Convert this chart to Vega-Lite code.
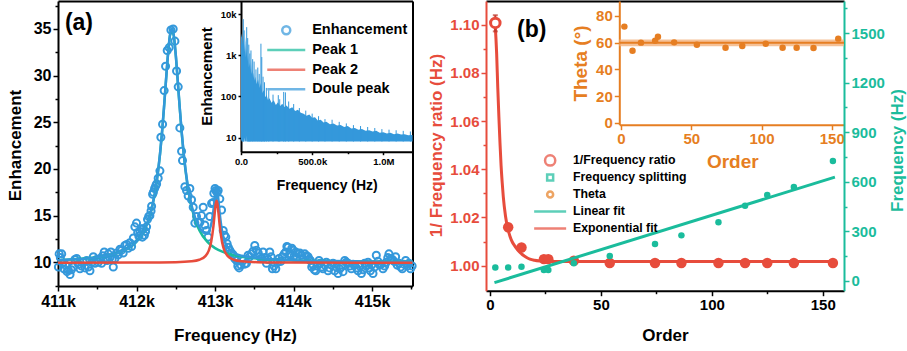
{
 "$schema": "https://vega.github.io/schema/vega-lite/v6.json",
 "width": 907, "height": 351,
 "autosize": {"type": "none"},
 "padding": 0,
 "background": "white",
 "config": {
   "view": {"stroke": null},
   "font": "Liberation Sans",
   "axis": {"grid": false, "labelFont": "Liberation Sans", "labelFontWeight": "bold", "labelFontSize": 15, "labelColor": "black", "titleFont": "Liberation Sans", "titleFontWeight": "bold", "titleFontSize": 17, "titleColor": "black", "domainColor": "black", "domainWidth": 2, "tickColor": "black", "tickWidth": 1.5, "tickSize": 5, "labelPadding": 2, "labelFlush": false, "labelOverlap": false, "titleAlign": "center", "titleBaseline": "middle"},
   "legend": {"labelFont": "Liberation Sans", "labelFontWeight": "bold", "labelColor": "black", "padding": 0}
 },
 "datasets": {
   "a_pts": [
     {"f":411005,"e":9.5},{"f":411015,"e":10.9},{"f":411030,"e":10.5},{"f":411047,"e":10.9},{"f":411060,"e":9.9},{"f":411075,"e":9.3},{"f":411098,"e":9.7},{"f":411115,"e":9.0},{"f":411132,"e":9.15},{"f":411153,"e":8.7},{"f":411170,"e":9.2},{"f":411195,"e":9.5},{"f":411215,"e":10.3},{"f":411238,"e":10.4},{"f":411260,"e":9.8},{"f":411280,"e":9.3},{"f":411300,"e":9.6},{"f":411322,"e":10.0},{"f":411345,"e":9.4},{"f":411365,"e":10.2},{"f":411386,"e":9.5},{"f":411407,"e":9.1},{"f":411430,"e":10.0},{"f":411450,"e":10.6},{"f":411471,"e":9.9},{"f":411490,"e":10.3},{"f":411513,"e":10.0},{"f":411535,"e":10.4},{"f":411555,"e":9.9},{"f":411570,"e":10.7},{"f":411589,"e":11.1},{"f":411610,"e":10.5},{"f":411625,"e":10.2},{"f":411640,"e":10.9},{"f":411660,"e":10.5},{"f":411674,"e":11.1},{"f":411690,"e":10.3},{"f":411704,"e":9.5},{"f":411725,"e":10.4},{"f":411745,"e":11.0},{"f":411768,"e":10.8},{"f":411790,"e":11.4},{"f":411810,"e":11.3},{"f":411830,"e":11.0},{"f":411852,"e":11.8},{"f":411875,"e":11.9},{"f":411895,"e":11.5},{"f":411915,"e":12.1},{"f":411937,"e":11.7},{"f":411960,"e":12.6},{"f":411979,"e":13.8},{"f":412000,"e":14.2},{"f":412015,"e":13.2},{"f":412030,"e":12.8},{"f":412043,"e":13.3},{"f":412060,"e":13.6},{"f":412075,"e":12.7},{"f":412085,"e":13.6},{"f":412100,"e":12.9},{"f":412115,"e":13.3},{"f":412128,"e":13.8},{"f":412140,"e":14.6},{"f":412155,"e":14.9},{"f":412170,"e":15.0},{"f":412185,"e":15.5},{"f":412192,"e":16.0},{"f":412205,"e":17.3},{"f":412215,"e":17.5},{"f":412230,"e":17.9},{"f":412245,"e":18.2},{"f":412256,"e":18.4},{"f":412276,"e":19.0},{"f":412298,"e":19.8},{"f":412310,"e":23.4},{"f":412332,"e":24.8},{"f":412352,"e":28.4},{"f":412370,"e":31.0},{"f":412391,"e":32.7},{"f":412416,"e":33.0},{"f":412438,"e":34.9},{"f":412467,"e":35.0},{"f":412489,"e":33.7},{"f":412510,"e":30.5},{"f":412531,"e":28.8},{"f":412552,"e":24.4},{"f":412574,"e":21.9},{"f":412586,"e":20.9},{"f":412616,"e":18.1},{"f":412637,"e":17.7},{"f":412658,"e":17.1},{"f":412679,"e":17.9},{"f":412701,"e":16.7},{"f":412722,"e":15.9},{"f":412743,"e":14.2},{"f":412764,"e":14.9},{"f":412785,"e":14.3},{"f":412807,"e":14.3},{"f":412828,"e":15.0},{"f":412849,"e":15.9},{"f":412870,"e":14.0},{"f":412891,"e":13.4},{"f":412912,"e":12.7},{"f":412934,"e":14.9},{"f":412956,"e":16.3},{"f":412975,"e":16.4},{"f":412985,"e":17.4},{"f":413000,"e":17.9},{"f":413010,"e":17.7},{"f":413025,"e":17.5},{"f":413040,"e":17.7},{"f":413061,"e":16.8},{"f":413083,"e":15.6},{"f":413104,"e":13.4},{"f":413120,"e":12.9},{"f":413137,"e":12.7},{"f":413154,"e":12.0},{"f":413170,"e":11.6},{"f":413188,"e":11.3},{"f":413210,"e":11.0},{"f":413230,"e":10.8},{"f":413250,"e":10.4},{"f":413273,"e":10.2},{"f":413290,"e":9.6},{"f":413307,"e":9.4},{"f":413330,"e":9.7},{"f":413358,"e":10.2},{"f":413380,"e":9.8},{"f":413400,"e":9.9},{"f":413421,"e":10.75},{"f":413440,"e":10.6},{"f":413464,"e":10.9},{"f":413485,"e":11.2},{"f":413506,"e":11.8},{"f":413527,"e":11.3},{"f":413550,"e":11.0},{"f":413570,"e":10.6},{"f":413590,"e":10.4},{"f":413612,"e":11.1},{"f":413635,"e":10.5},{"f":413655,"e":9.9},{"f":413675,"e":10.3},{"f":413697,"e":11.1},{"f":413715,"e":10.6},{"f":413731,"e":9.3},{"f":413750,"e":9.6},{"f":413774,"e":9.3},{"f":413795,"e":10.0},{"f":413816,"e":10.4},{"f":413838,"e":10.1},{"f":413858,"e":10.6},{"f":413880,"e":10.9},{"f":413901,"e":11.1},{"f":413915,"e":11.7},{"f":413930,"e":11.6},{"f":413945,"e":10.8},{"f":413960,"e":10.9},{"f":413978,"e":11.5},{"f":413994,"e":11.3},{"f":414010,"e":10.7},{"f":414028,"e":11.1},{"f":414045,"e":10.5},{"f":414058,"e":10.9},{"f":414080,"e":11.0},{"f":414101,"e":10.75},{"f":414120,"e":10.4},{"f":414143,"e":10.9},{"f":414165,"e":10.7},{"f":414185,"e":10.6},{"f":414200,"e":10.3},{"f":414215,"e":10.2},{"f":414232,"e":9.5},{"f":414249,"e":9.7},{"f":414265,"e":9.2},{"f":414283,"e":9.1},{"f":414300,"e":9.6},{"f":414325,"e":10.2},{"f":414340,"e":9.9},{"f":414355,"e":9.5},{"f":414375,"e":9.3},{"f":414397,"e":9.7},{"f":414418,"e":10.0},{"f":414440,"e":9.1},{"f":414460,"e":9.4},{"f":414482,"e":9.7},{"f":414503,"e":9.9},{"f":414524,"e":9.1},{"f":414545,"e":9.5},{"f":414567,"e":8.8},{"f":414588,"e":9.3},{"f":414609,"e":9.5},{"f":414630,"e":9.0},{"f":414652,"e":10.2},{"f":414673,"e":10.0},{"f":414694,"e":9.9},{"f":414715,"e":9.6},{"f":414736,"e":9.3},{"f":414758,"e":9.8},{"f":414779,"e":9.7},{"f":414800,"e":9.4},{"f":414821,"e":9.1},{"f":414843,"e":9.6},{"f":414864,"e":8.8},{"f":414885,"e":9.2},{"f":414906,"e":9.9},{"f":414928,"e":9.6},{"f":414949,"e":10.0},{"f":414965,"e":9.4},{"f":414978,"e":9.1},{"f":414995,"e":9.7},{"f":415012,"e":8.8},{"f":415033,"e":9.5},{"f":415054,"e":10.75},{"f":415075,"e":10.1},{"f":415097,"e":9.7},{"f":415118,"e":9.8},{"f":415139,"e":9.3},{"f":415160,"e":9.6},{"f":415181,"e":10.0},{"f":415200,"e":10.5},{"f":415215,"e":10.9},{"f":415237,"e":10.4},{"f":415258,"e":10.3},{"f":415280,"e":10.1},{"f":415300,"e":10.6},{"f":415320,"e":9.7},{"f":415343,"e":9.9},{"f":415365,"e":9.5},{"f":415385,"e":9.3},{"f":415405,"e":9.8},{"f":415428,"e":10.2},{"f":415450,"e":9.6},{"f":415470,"e":9.9},{"f":415490,"e":9.3},{"f":415510,"e":9.6}
   ],
   "a_p1": [
     {"f":411000,"e":10.23},{"f":411500,"e":10.53},{"f":411800,"e":11.11},{"f":412000,"e":12.21},{"f":412100,"e":13.45},{"f":412150,"e":14.47},{"f":412200,"e":15.97},{"f":412250,"e":18.22},{"f":412300,"e":21.64},{"f":412325,"e":23.91},{"f":412350,"e":26.56},{"f":412375,"e":29.42},{"f":412400,"e":32.17},{"f":412425,"e":34.23},{"f":412450,"e":35.0},{"f":412475,"e":34.23},{"f":412500,"e":32.17},{"f":412525,"e":29.42},{"f":412550,"e":26.56},{"f":412575,"e":23.91},{"f":412600,"e":21.64},{"f":412650,"e":18.22},{"f":412700,"e":15.97},{"f":412750,"e":14.47},{"f":412800,"e":13.45},{"f":412900,"e":12.21},{"f":413000,"e":11.52},{"f":413100,"e":11.11},{"f":413200,"e":10.84},{"f":413400,"e":10.53},{"f":413700,"e":10.31},{"f":414000,"e":10.2},{"f":414500,"e":10.12},{"f":415000,"e":10.075},{"f":415515,"e":10.05}
   ],
   "a_p2": [
     {"f":411000,"e":9.95},{"f":412000,"e":9.97},{"f":412500,"e":10.01},{"f":412700,"e":10.1},{"f":412800,"e":10.27},{"f":412880,"e":10.69},{"f":412920,"e":11.25},{"f":412950,"e":12.15},{"f":412980,"e":13.91},{"f":413000,"e":15.6},{"f":413010,"e":16.3},{"f":413020,"e":16.6},{"f":413030,"e":16.3},{"f":413040,"e":15.6},{"f":413060,"e":13.91},{"f":413090,"e":12.15},{"f":413120,"e":11.25},{"f":413160,"e":10.69},{"f":413240,"e":10.27},{"f":413340,"e":10.1},{"f":413540,"e":10.01},{"f":414000,"e":9.97},{"f":415515,"e":9.95}
   ],
   "a_dp": [
     {"f":411000,"e":10.23},{"f":411500,"e":10.54},{"f":411800,"e":11.12},{"f":412000,"e":12.23},{"f":412100,"e":13.47},{"f":412150,"e":14.49},{"f":412200,"e":16.0},{"f":412250,"e":18.25},{"f":412300,"e":21.68},{"f":412325,"e":23.95},{"f":412350,"e":26.61},{"f":412375,"e":29.47},{"f":412400,"e":32.22},{"f":412425,"e":34.29},{"f":412450,"e":35.06},{"f":412475,"e":34.29},{"f":412500,"e":32.24},{"f":412525,"e":29.49},{"f":412550,"e":26.64},{"f":412575,"e":24.0},{"f":412600,"e":21.74},{"f":412650,"e":18.34},{"f":412700,"e":16.13},{"f":412750,"e":14.69},{"f":412800,"e":13.77},{"f":412850,"e":13.25},{"f":412900,"e":13.17},{"f":412950,"e":14.02},{"f":412980,"e":15.59},{"f":413000,"e":17.12},{"f":413010,"e":17.71},{"f":413020,"e":17.92},{"f":413030,"e":17.63},{"f":413040,"e":16.94},{"f":413060,"e":15.21},{"f":413090,"e":13.34},{"f":413120,"e":12.35},{"f":413160,"e":11.63},{"f":413240,"e":11.03},{"f":413340,"e":10.7},{"f":413540,"e":10.47},{"f":414000,"e":10.22},{"f":414500,"e":10.13},{"f":415000,"e":10.08},{"f":415515,"e":10.05}
   ],
   "inset": [
     {"f":0,"hi":2600,"lo":9},{"f":5000,"hi":3400,"lo":8},{"f":10000,"hi":1800,"lo":8},{"f":15000,"hi":3000,"lo":8},{"f":20000,"hi":2200,"lo":8},{"f":25000,"hi":1200,"lo":10},{"f":30000,"hi":2800,"lo":8},{"f":35000,"hi":900,"lo":8},{"f":40000,"hi":1500,"lo":11},{"f":45000,"hi":700,"lo":8},{"f":50000,"hi":1000,"lo":8},{"f":55000,"hi":500,"lo":8},{"f":60000,"hi":650,"lo":8},{"f":65000,"hi":420,"lo":8},{"f":70000,"hi":800,"lo":8},{"f":75000,"hi":350,"lo":8},{"f":80000,"hi":450,"lo":8},{"f":85000,"hi":280,"lo":8},{"f":90000,"hi":380,"lo":8},{"f":95000,"hi":240,"lo":8},{"f":100000,"hi":300,"lo":8},{"f":110000,"hi":200,"lo":8},{"f":120000,"hi":260,"lo":8},{"f":130000,"hi":160,"lo":8},{"f":140000,"hi":210,"lo":8},{"f":150000,"hi":120,"lo":8},{"f":160000,"hi":140,"lo":8},{"f":170000,"hi":95,"lo":8},{"f":180000,"hi":110,"lo":8},{"f":190000,"hi":80,"lo":8},{"f":200000,"hi":90,"lo":8},{"f":215000,"hi":70,"lo":8},{"f":230000,"hi":80,"lo":8},{"f":245000,"hi":62,"lo":8},{"f":260000,"hi":72,"lo":8},{"f":275000,"hi":58,"lo":8},{"f":290000,"hi":66,"lo":8},{"f":305000,"hi":55,"lo":8},{"f":320000,"hi":60,"lo":8},{"f":340000,"hi":50,"lo":8},{"f":360000,"hi":54,"lo":8},{"f":380000,"hi":44,"lo":8},{"f":400000,"hi":47,"lo":8},{"f":420000,"hi":40,"lo":8},{"f":440000,"hi":38,"lo":8},{"f":460000,"hi":34,"lo":8},{"f":480000,"hi":36,"lo":8},{"f":500000,"hi":30,"lo":8},{"f":520000,"hi":31,"lo":8},{"f":540000,"hi":26,"lo":8},{"f":560000,"hi":27,"lo":8},{"f":580000,"hi":23,"lo":8},{"f":600000,"hi":24,"lo":8},{"f":625000,"hi":21,"lo":8},{"f":650000,"hi":22,"lo":8},{"f":675000,"hi":19.5,"lo":8},{"f":700000,"hi":20,"lo":8},{"f":725000,"hi":18,"lo":8},{"f":750000,"hi":19,"lo":8},{"f":775000,"hi":16.5,"lo":8},{"f":800000,"hi":17,"lo":8},{"f":825000,"hi":15.5,"lo":8},{"f":850000,"hi":16,"lo":8},{"f":875000,"hi":14.5,"lo":8},{"f":900000,"hi":15,"lo":8},{"f":925000,"hi":14,"lo":8},{"f":950000,"hi":14.5,"lo":8},{"f":975000,"hi":13,"lo":8},{"f":1000000,"hi":13.5,"lo":8},{"f":1025000,"hi":12.5,"lo":8},{"f":1050000,"hi":13,"lo":8},{"f":1075000,"hi":12,"lo":8},{"f":1100000,"hi":12.5,"lo":8},{"f":1125000,"hi":11.8,"lo":8},{"f":1150000,"hi":12,"lo":8},{"f":1175000,"hi":11.3,"lo":8},{"f":1205000,"hi":11.5,"lo":8}
   ],
   "spikes": [
     {"f":16000,"hi":7500,"lo":8},{"f":22000,"hi":4000,"lo":8},{"f":40000,"hi":4800,"lo":8},{"f":47000,"hi":2600,"lo":8},{"f":55000,"hi":1800,"lo":8},{"f":62000,"hi":1100,"lo":8},{"f":70000,"hi":1300,"lo":8},{"f":82000,"hi":800,"lo":8},{"f":92000,"hi":700,"lo":8},{"f":105000,"hi":450,"lo":8},{"f":118000,"hi":500,"lo":8},{"f":128000,"hi":350,"lo":8},{"f":140000,"hi":1900,"lo":8},{"f":146000,"hi":900,"lo":8},{"f":155000,"hi":300,"lo":8},{"f":165000,"hi":220,"lo":8},{"f":178000,"hi":160,"lo":8},{"f":195000,"hi":140,"lo":8},{"f":225000,"hi":110,"lo":8},{"f":262000,"hi":107,"lo":8},{"f":272000,"hi":85,"lo":8},{"f":300000,"hi":128,"lo":8},{"f":312000,"hi":125,"lo":8},{"f":335000,"hi":75,"lo":8},{"f":370000,"hi":65,"lo":8},{"f":410000,"hi":52,"lo":8},{"f":455000,"hi":45,"lo":8},{"f":500000,"hi":38,"lo":8},{"f":545000,"hi":33,"lo":8},{"f":590000,"hi":28,"lo":8},{"f":640000,"hi":27,"lo":8},{"f":690000,"hi":24,"lo":8},{"f":740000,"hi":22,"lo":8},{"f":790000,"hi":20,"lo":8},{"f":840000,"hi":19,"lo":8},{"f":890000,"hi":18,"lo":8},{"f":940000,"hi":17,"lo":8},{"f":990000,"hi":16,"lo":8},{"f":1040000,"hi":15.5,"lo":8},{"f":1090000,"hi":15,"lo":8},{"f":1140000,"hi":14.5,"lo":8},{"f":1190000,"hi":14,"lo":8}
   ],
   "b_exp": [
     {"order":2.3,"ratio":1.1005},{"order":3,"ratio":1.088},{"order":3.5,"ratio":1.074},{"order":4,"ratio":1.062},{"order":4.5,"ratio":1.051},{"order":5,"ratio":1.0415},{"order":5.5,"ratio":1.0345},{"order":6,"ratio":1.0285},{"order":7,"ratio":1.0205},{"order":8,"ratio":1.0155},{"order":9,"ratio":1.0122},{"order":10,"ratio":1.0099},{"order":11,"ratio":1.0084},{"order":12,"ratio":1.0071},{"order":13,"ratio":1.006},{"order":14,"ratio":1.0051},{"order":15,"ratio":1.0043},{"order":16.5,"ratio":1.0034},{"order":18,"ratio":1.0027},{"order":20,"ratio":1.0022},{"order":22.5,"ratio":1.0019},{"order":25,"ratio":1.0018},{"order":30,"ratio":1.0017},{"order":40,"ratio":1.0017},{"order":155,"ratio":1.0017}
   ],
   "b_ratio": [
     {"order":8.2,"ratio":1.0159},{"order":14.2,"ratio":1.0075},{"order":24.3,"ratio":1.0027},{"order":26.3,"ratio":1.0027},{"order":37.8,"ratio":1.002},{"order":54,"ratio":1.0011},{"order":74.4,"ratio":1.0011},{"order":86.3,"ratio":1.0011},{"order":103,"ratio":1.0011},{"order":115,"ratio":1.0011},{"order":125,"ratio":1.0011},{"order":137,"ratio":1.0011},{"order":154.6,"ratio":1.0011}
   ],
   "b_first": [{"order":2.4,"ratio":1.1007,"lo":1.0972,"hi":1.1039}],
   "b_split": [
     {"order":2.4,"hz":82},{"order":8.2,"hz":82},{"order":14.2,"hz":86},{"order":24.3,"hz":66},{"order":26.3,"hz":66},{"order":37.8,"hz":107},{"order":54,"hz":151},{"order":74.4,"hz":224},{"order":86.3,"hz":276},{"order":103,"hz":355},{"order":115,"hz":455},{"order":125,"hz":520},{"order":137,"hz":569},{"order":154.6,"hz":726}
   ],
   "b_lin": [{"order":2,"hz":-10},{"order":155.5,"hz":628}],
   "b_theta": [
     {"order":2.4,"theta":72},{"order":8.2,"theta":54},{"order":14.2,"theta":60},{"order":24.3,"theta":61.4},{"order":26.3,"theta":64.4},{"order":37.8,"theta":60.2},{"order":54,"theta":58.5},{"order":74.4,"theta":56.2},{"order":86.3,"theta":57.4},{"order":103,"theta":59.2},{"order":115,"theta":56.2},{"order":125,"theta":56.2},{"order":137,"theta":55.9},{"order":154.6,"theta":63}
   ],
   "b_thfit": [{"order":-1.21,"theta":60,"lo":57.2,"hi":62.3},{"order":158.7,"theta":60,"lo":57.2,"hi":62.3}]
 },
 "resolve": {
   "scale": {"x": "independent", "y": "independent", "color": "independent", "shape": "independent"},
   "axis": {"x": "independent", "y": "independent"},
   "legend": {"color": "independent", "shape": "independent"}
 },
 "layer": [
   {
     "data": {"name": "a_pts"},
     "mark": {"type": "point", "filled": false, "color": "#3498db", "size": 50, "strokeWidth": 2, "opacity": 1},
     "encoding": {
       "x": {"field": "f", "type": "quantitative", "scale": {"domain": [411000, 415515], "range": [58, 412.5], "nice": false, "zero": false},
             "axis": {"orient": "bottom", "offset": -65, "values": [411000, 412000, 413000, 414000, 415000], "labelExpr": "format(datum.value/1000,'d')+'k'", "labelFontSize": 16, "title": "Frequency (Hz)", "titleX": 235, "titleY": 49}},
       "y": {"field": "e", "type": "quantitative", "scale": {"domain": [7.46, 38.0], "range": [286, 1], "nice": false, "zero": false},
             "axis": {"orient": "left", "offset": -58, "values": [10, 15, 20, 25, 30, 35], "labelFontSize": 16, "title": "Enhancement", "titleX": -43, "titleY": 145, "titleAngle": -90}}
     }
   },
   {
     "data": {"name": "a_p1"},
     "mark": {"type": "line", "color": "#1abc9c", "strokeWidth": 2.5, "interpolate": "monotone"},
     "encoding": {
       "x": {"field": "f", "type": "quantitative", "scale": {"domain": [411000, 415515], "range": [58, 412.5], "nice": false, "zero": false},
             "axis": {"orient": "bottom", "offset": -65, "values": [411500, 412500, 413500, 414500, 415500], "labels": false, "domain": false, "tickSize": 3, "title": null}},
       "y": {"field": "e", "type": "quantitative", "scale": {"domain": [7.46, 38.0], "range": [286, 1], "nice": false, "zero": false},
             "axis": {"orient": "left", "offset": -58, "values": [7.5, 12.5, 17.5, 22.5, 27.5, 32.5, 37.5], "labels": false, "domain": false, "tickSize": 3, "title": null}}
     }
   },
   {
     "data": {"name": "a_dp"},
     "mark": {"type": "line", "color": "#3498db", "strokeWidth": 2.5, "interpolate": "monotone"},
     "encoding": {
       "x": {"field": "f", "type": "quantitative", "scale": {"domain": [411000, 415515], "range": [58, 412.5], "nice": false, "zero": false},
             "axis": {"orient": "top", "offset": -1, "ticks": false, "labels": false, "title": null}},
       "y": {"field": "e", "type": "quantitative", "scale": {"domain": [7.46, 38.0], "range": [286, 1], "nice": false, "zero": false},
             "axis": {"orient": "right", "offset": -494.5, "ticks": false, "labels": false, "title": null}}
     }
   },
   {
     "data": {"name": "a_p2"},
     "mark": {"type": "line", "color": "#e74c3c", "strokeWidth": 2.5, "interpolate": "monotone"},
     "encoding": {
       "x": {"field": "f", "type": "quantitative", "scale": {"domain": [411000, 415515], "range": [58, 412.5], "nice": false, "zero": false}, "axis": null},
       "y": {"field": "e", "type": "quantitative", "scale": {"domain": [7.46, 38.0], "range": [286, 1], "nice": false, "zero": false}, "axis": null}
     }
   },
   {
     "data": {"values": [{"label": "(a)", "f": 411267, "e": 35.64}]},
     "mark": {"type": "text", "font": "Liberation Sans", "fontWeight": "bold", "fontSize": 23, "align": "center", "baseline": "middle", "color": "black"},
     "encoding": {
       "text": {"field": "label"},
       "x": {"field": "f", "type": "quantitative", "scale": {"domain": [411000, 415515], "range": [58, 412.5], "nice": false, "zero": false}, "axis": null},
       "y": {"field": "e", "type": "quantitative", "scale": {"domain": [7.46, 38.0], "range": [286, 1], "nice": false, "zero": false}, "axis": null}
     }
   },
   {
     "data": {"name": "inset"},
     "mark": {"type": "area", "color": "#3498db", "opacity": 1},
     "encoding": {
       "x": {"field": "f", "type": "quantitative", "scale": {"domain": [0, 1205000], "range": [241, 412.5], "nice": false, "zero": false},
             "axis": {"orient": "bottom", "offset": -199.3, "values": [0, 500000, 1000000], "labelExpr": "datum.value >= 1000000 ? format(datum.value/1000000,'.1f')+'M' : datum.value >= 1000 ? format(datum.value/1000,'.1f')+'k' : format(datum.value,'.1f')", "labelFontSize": 9.5, "tickSize": 3, "title": "Frequency (Hz)", "titleFontSize": 14, "titleX": 326.7, "titleY": 33.3}},
       "y": {"field": "hi", "type": "quantitative", "scale": {"type": "log", "domain": [4.52, 20700], "range": [151.7, 1], "nice": false},
             "axis": {"orient": "left", "offset": -241, "values": [10, 100, 1000, 10000], "format": "~s", "labelFontSize": 9.5, "tickSize": 3, "title": "Enhancement", "titleFontSize": 15, "titleX": -34.3, "titleY": 76, "titleAngle": -90}},
       "y2": {"field": "lo"}
     }
   },
   {
     "data": {"name": "spikes"},
     "mark": {"type": "rule", "color": "#3498db", "strokeWidth": 1},
     "encoding": {
       "x": {"field": "f", "type": "quantitative", "scale": {"domain": [0, 1205000], "range": [241, 412.5], "nice": false, "zero": false},
             "axis": {"orient": "bottom", "offset": -199.3, "values": [250000, 750000], "labels": false, "domain": false, "tickSize": 2, "title": null}},
       "y": {"field": "hi", "type": "quantitative", "scale": {"type": "log", "domain": [4.52, 20700], "range": [151.7, 1], "nice": false}, "axis": null},
       "y2": {"field": "lo"}
     }
   },
   {
     "data": {"values": []},
     "mark": {"type": "point", "filled": false, "strokeWidth": 2.5},
     "encoding": {
       "color": {"field": "s", "type": "nominal", "scale": {"domain": ["Enhancement", "Peak 1", "Peak 2", "Doule peak"], "range": ["#3498db", "#1abc9c", "#e74c3c", "#3498db"]},
                 "legend": {"orient": "none", "legendX": 279, "legendY": 23, "title": null, "labelFontSize": 14.5, "symbolSize": 64, "symbolStrokeWidth": 2.5, "labelOffset": 18.7, "rowPadding": 0.7}},
       "shape": {"field": "s", "type": "nominal", "scale": {"domain": ["Enhancement", "Peak 1", "Peak 2", "Doule peak"], "range": ["M-1,0A1,1,0,1,1,1,0A1,1,0,1,1,-1,0Z", "M-4.75,0H4.75M0,-1M0,1", "M-4.75,0H4.75M0,-1M0,1", "M-4.75,0H4.75M0,-1M0,1"]},
                 "legend": {"orient": "none", "legendX": 279, "legendY": 23, "title": null, "labelFontSize": 14.5, "symbolSize": 64, "symbolStrokeWidth": 2.5, "labelOffset": 18.7, "rowPadding": 0.7}}
     }
   },
   {
     "data": {"name": "b_exp"},
     "mark": {"type": "line", "color": "#e74c3c", "strokeWidth": 3, "interpolate": "monotone"},
     "encoding": {
       "x": {"field": "order", "type": "quantitative", "scale": {"domain": [-1.8, 159.6], "range": [486, 844], "nice": false, "zero": false},
             "axis": {"orient": "bottom", "offset": -60.3, "values": [0, 50, 100, 150], "title": "Order", "titleX": 665, "titleY": 44.3}},
       "y": {"field": "ratio", "type": "quantitative", "scale": {"domain": [0.9896, 1.1098], "range": [290.7, 1], "nice": false, "zero": false},
             "axis": {"orient": "left", "offset": -486, "values": [1.0, 1.02, 1.04, 1.06, 1.08, 1.1], "format": ".2f", "domainColor": "#e74c3c", "tickColor": "#e74c3c", "labelColor": "#e74c3c", "titleColor": "#e74c3c", "title": "1/ Frequency ratio (Hz)", "titleX": -49.5, "titleY": 145, "titleAngle": -90}}
     }
   },
   {
     "data": {"name": "b_ratio"},
     "mark": {"type": "circle", "color": "#e74c3c", "size": 110, "opacity": 1},
     "encoding": {
       "x": {"field": "order", "type": "quantitative", "scale": {"domain": [-1.8, 159.6], "range": [486, 844], "nice": false, "zero": false},
             "axis": {"orient": "bottom", "offset": -60.3, "values": [25, 75, 125], "labels": false, "domain": false, "tickSize": 3, "title": null}},
       "y": {"field": "ratio", "type": "quantitative", "scale": {"domain": [0.9896, 1.1098], "range": [290.7, 1], "nice": false, "zero": false},
             "axis": {"orient": "left", "offset": -486, "values": [1.01, 1.03, 1.05, 1.07, 1.09], "labels": false, "domain": false, "tickSize": 3, "tickColor": "#e74c3c", "title": null}}
     }
   },
   {
     "data": {"name": "b_first"},
     "mark": {"type": "errorbar", "ticks": true, "color": "#c0392b", "thickness": 2},
     "encoding": {
       "x": {"field": "order", "type": "quantitative", "scale": {"domain": [-1.8, 159.6], "range": [486, 844], "nice": false, "zero": false}, "axis": null},
       "y": {"field": "lo", "type": "quantitative", "scale": {"domain": [0.9896, 1.1098], "range": [290.7, 1], "nice": false, "zero": false}, "axis": null},
       "y2": {"field": "hi"}
     }
   },
   {
     "data": {"name": "b_first"},
     "mark": {"type": "point", "filled": false, "fill": "white", "fillOpacity": 1, "color": "#e74c3c", "strokeWidth": 3, "size": 90, "opacity": 1},
     "encoding": {
       "x": {"field": "order", "type": "quantitative", "scale": {"domain": [-1.8, 159.6], "range": [486, 844], "nice": false, "zero": false},
             "axis": {"orient": "top", "offset": -1, "ticks": false, "labels": false, "title": null}},
       "y": {"field": "ratio", "type": "quantitative", "scale": {"domain": [0.9896, 1.1098], "range": [290.7, 1], "nice": false, "zero": false}, "axis": null}
     }
   },
   {
     "data": {"name": "b_split"},
     "mark": {"type": "circle", "color": "#1abc9c", "size": 42, "opacity": 1},
     "encoding": {
       "x": {"field": "order", "type": "quantitative", "scale": {"domain": [-1.8, 159.6], "range": [486, 844], "nice": false, "zero": false}, "axis": null},
       "y": {"field": "hz", "type": "quantitative", "scale": {"domain": [-58.7, 1693.6], "range": [290.7, 1], "nice": false, "zero": false},
             "axis": {"orient": "right", "offset": -63, "values": [0, 300, 600, 900, 1200, 1500], "format": "d", "domainColor": "#1abc9c", "tickColor": "#1abc9c", "labelColor": "#1abc9c", "titleColor": "#1abc9c", "title": "Frequency (Hz)", "titleX": 53, "titleY": 150, "titleAngle": -90}}
     }
   },
   {
     "data": {"name": "b_lin"},
     "mark": {"type": "line", "color": "#1abc9c", "strokeWidth": 3},
     "encoding": {
       "x": {"field": "order", "type": "quantitative", "scale": {"domain": [-1.8, 159.6], "range": [486, 844], "nice": false, "zero": false}, "axis": null},
       "y": {"field": "hz", "type": "quantitative", "scale": {"domain": [-58.7, 1693.6], "range": [290.7, 1], "nice": false, "zero": false},
             "axis": {"orient": "right", "offset": -63, "values": [150, 450, 750, 1050, 1350, 1650], "labels": false, "domain": false, "tickSize": 3, "tickColor": "#1abc9c", "title": null}}
     }
   },
   {
     "data": {"values": [{"label": "(b)", "order": 18.8, "ratio": 1.0979}]},
     "mark": {"type": "text", "font": "Liberation Sans", "fontWeight": "bold", "fontSize": 23, "align": "center", "baseline": "middle", "color": "black"},
     "encoding": {
       "text": {"field": "label"},
       "x": {"field": "order", "type": "quantitative", "scale": {"domain": [-1.8, 159.6], "range": [486, 844], "nice": false, "zero": false}, "axis": null},
       "y": {"field": "ratio", "type": "quantitative", "scale": {"domain": [0.9896, 1.1098], "range": [290.7, 1], "nice": false, "zero": false}, "axis": null}
     }
   },
   {
     "data": {"name": "b_thfit"},
     "mark": {"type": "area", "color": "#f3b27d", "opacity": 0.8},
     "encoding": {
       "x": {"field": "order", "type": "quantitative", "scale": {"domain": [-1.21, 158.7], "range": [619.3, 844], "nice": false, "zero": false}, "axis": null},
       "y": {"field": "hi", "type": "quantitative", "scale": {"domain": [-1.5, 91.2], "range": [124.7, 1], "nice": false, "zero": false}, "axis": null},
       "y2": {"field": "lo"}
     }
   },
   {
     "data": {"name": "b_thfit"},
     "mark": {"type": "line", "color": "#e67e22", "strokeWidth": 2},
     "encoding": {
       "x": {"field": "order", "type": "quantitative", "scale": {"domain": [-1.21, 158.7], "range": [619.3, 844], "nice": false, "zero": false}, "axis": null},
       "y": {"field": "theta", "type": "quantitative", "scale": {"domain": [-1.5, 91.2], "range": [124.7, 1], "nice": false, "zero": false}, "axis": null}
     }
   },
   {
     "data": {"name": "b_theta"},
     "mark": {"type": "circle", "color": "#e67e22", "size": 42, "opacity": 1},
     "encoding": {
       "x": {"field": "order", "type": "quantitative", "scale": {"domain": [-1.21, 158.7], "range": [619.3, 844], "nice": false, "zero": false},
             "axis": {"orient": "bottom", "offset": -226.3, "values": [0, 50, 100, 150], "domainColor": "#e67e22", "tickColor": "#e67e22", "labelColor": "#e67e22", "titleColor": "#e67e22", "title": "Order", "titleFontSize": 19, "titleX": 732.3, "titleY": 36.3}},
       "y": {"field": "theta", "type": "quantitative", "scale": {"domain": [-1.5, 91.2], "range": [124.7, 1], "nice": false, "zero": false},
             "axis": {"orient": "left", "offset": -619.3, "values": [0, 20, 40, 60, 80], "domainColor": "#e67e22", "tickColor": "#e67e22", "labelColor": "#e67e22", "titleColor": "#e67e22", "title": "Theta (°)", "titleFontSize": 19, "titleX": -39.3, "titleY": 63, "titleAngle": -90}}
     }
   },
   {
     "data": {"values": []},
     "mark": {"type": "point", "filled": false, "strokeWidth": 2.5},
     "encoding": {
       "color": {"field": "s", "type": "nominal", "scale": {"domain": ["1/Frequency ratio", "Frequency splitting", "Theta", "Linear fit", "Exponential fit"], "range": ["#e74c3c", "#1abc9c", "#e67e22", "#1abc9c", "#e74c3c"]},
                 "legend": {"orient": "none", "legendX": 544, "legendY": 154.3, "title": null, "labelFontSize": 12.3, "symbolSize": 36, "symbolStrokeWidth": 2.5, "labelOffset": 16.7, "rowPadding": -4.3}},
       "shape": {"field": "s", "type": "nominal", "scale": {"domain": ["1/Frequency ratio", "Frequency splitting", "Theta", "Linear fit", "Exponential fit"], "range": ["M-1.7,0A1.7,1.7,0,1,1,1.7,0A1.7,1.7,0,1,1,-1.7,0Z", "M-1,-1H1V1H-1ZM0,-1.7M0,1.7", "M-1,0A1,1,0,1,1,1,0A1,1,0,1,1,-1,0ZM0,-1.7M0,1.7", "M-5.33,0H5.33M0,-1.7M0,1.7", "M-5.33,0H5.33M0,-1.7M0,1.7"]},
                 "legend": {"orient": "none", "legendX": 544, "legendY": 154.3, "title": null, "labelFontSize": 12.3, "symbolSize": 36, "symbolStrokeWidth": 2.5, "labelOffset": 16.7, "rowPadding": -4.3}}
     }
   }
 ]
}
